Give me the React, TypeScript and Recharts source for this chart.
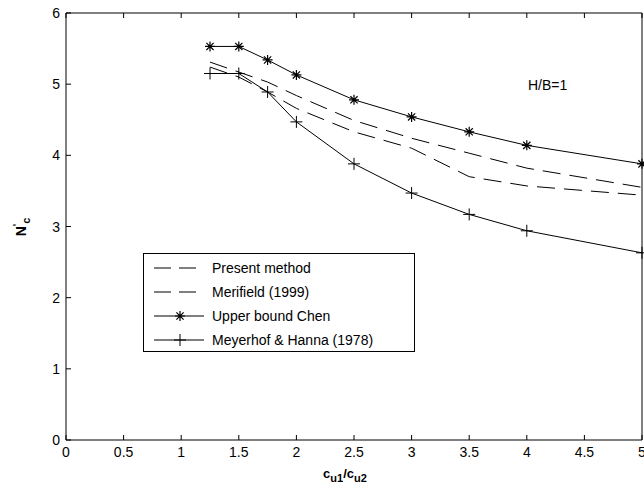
import { LineChart, Line, XAxis, YAxis, Legend, ReferenceDot } from 'recharts';

const xValues = [1.25, 1.5, 1.75, 2, 2.5, 3, 3.5, 4, 5];
const presentMethod = [5.31, 5.17, 5.03, 4.84, 4.49, 4.24, 4.03, 3.82, 3.55];
const merifield = [5.24, 5.1, 4.89, 4.66, 4.33, 4.1, 3.7, 3.57, 3.44];
const upperBoundChen = [5.53, 5.53, 5.34, 5.13, 4.78, 4.54, 4.33, 4.14, 3.88];
const meyerhofHanna = [5.15, 5.15, 4.89, 4.47, 3.88, 3.47, 3.17, 2.94, 2.63];

const xTicks = [0, 0.5, 1, 1.5, 2, 2.5, 3, 3.5, 4, 4.5, 5];
const yTicks = [0, 1, 2, 3, 4, 5, 6];

const seriesNames = ['Present method', 'Merifield (1999)', 'Upper bound Chen', 'Meyerhof & Hanna (1978)'];

const data = xValues.map((x, i) => ({
    x,
    present: presentMethod[i],
    merifield: merifield[i],
    chen: upperBoundChen[i],
    meyerhof: meyerhofHanna[i],
}));

const font = '"Liberation Sans", Arial, sans-serif';
const dash = '18 9';
const TICK = 5;
const GAP = 6;

// ticks point inward, matlab style; labels sit outside the box
function BottomTick(props: any) {
    const { x, y, payload } = props;
    return (
        <g>
            <line x1={x} x2={x} y1={y - GAP} y2={y - GAP - TICK} stroke="#000" />
            <text x={x} y={y} dy="0.75em" textAnchor="middle" fontFamily={font} fontSize={14} fill="#000">
                {payload.value}
            </text>
        </g>
    );
}

function LeftTick(props: any) {
    const { x, y, payload } = props;
    return (
        <g>
            <line x1={x + GAP} x2={x + GAP + TICK} y1={y} y2={y} stroke="#000" />
            <text x={x} y={y} dy="0.36em" textAnchor="end" fontFamily={font} fontSize={14} fill="#000">
                {payload.value}
            </text>
        </g>
    );
}

function TopTick(props: any) {
    const { x, y } = props;
    return <line x1={x} x2={x} y1={y} y2={y + TICK} stroke="#000" />;
}

function RightTick(props: any) {
    const { x, y } = props;
    return <line x1={x} x2={x - TICK} y1={y} y2={y} stroke="#000" />;
}

function Asterisk({ cx, cy }: { cx?: number; cy?: number }) {
    if (cx == null || cy == null) return null;
    const r = 5;
    const d = r * 0.72;
    return (
        <path
            d={`M${cx - r},${cy}H${cx + r}M${cx},${cy - r}V${cy + r}M${cx - d},${cy - d}L${cx + d},${cy + d}M${cx - d},${cy + d}L${cx + d},${cy - d}`}
            stroke="#000"
            strokeWidth={1.2}
            fill="none"
        />
    );
}

function Plus({ cx, cy }: { cx?: number; cy?: number }) {
    if (cx == null || cy == null) return null;
    const r = 6;
    return (
        <path
            d={`M${cx - r},${cy}H${cx + r}M${cx},${cy - r}V${cy + r}`}
            stroke="#000"
            strokeWidth={1}
            fill="none"
        />
    );
}

function LegendBox() {
    const rows = [
        { name: seriesNames[0], dashed: true, marker: null },
        { name: seriesNames[1], dashed: true, marker: null },
        { name: seriesNames[2], dashed: false, marker: 'star' },
        { name: seriesNames[3], dashed: false, marker: 'plus' },
    ];
    return (
        <div
            style={{
                width: 270,
                height: 95,
                border: '1px solid #000',
                background: '#fff',
                boxSizing: 'content-box',
                fontFamily: font,
                fontSize: 14,
                color: '#000',
                paddingTop: 2,
                textAlign: 'left',
            }}
        >
            {rows.map((r) => (
                <div key={r.name} style={{ display: 'flex', alignItems: 'center', height: 24 }}>
                    <svg width={68} height={24} style={{ flex: 'none' }}>
                        <line
                            x1={10}
                            x2={60}
                            y1={12}
                            y2={12}
                            stroke="#000"
                            strokeWidth={1}
                            strokeDasharray={r.dashed ? '17 8' : undefined}
                        />
                        {r.marker === 'star' && <Asterisk cx={36} cy={12} />}
                        {r.marker === 'plus' && <Plus cx={36} cy={12} />}
                    </svg>
                    <span>{r.name}</span>
                </div>
            ))}
        </div>
    );
}

function YLabel() {
    return (
        <text
            transform="translate(26,227) rotate(-90)"
            textAnchor="middle"
            fontFamily={font}
            fontWeight="bold"
            fontSize={14}
            fill="#000"
        >
            N
            <tspan dy={-5} fontSize={10}>'</tspan>
            <tspan dy={9} fontSize={11}>c</tspan>
        </text>
    );
}

function XLabel() {
    return (
        <text x={345} y={478} textAnchor="middle" fontFamily={font} fontWeight="bold" fontSize={13} fill="#000">
            c<tspan dy={4} fontSize={11}>u1</tspan>
            <tspan dy={-4}>/c</tspan>
            <tspan dy={4} fontSize={11}>u2</tspan>
        </text>
    );
}

export default function App() {
    return (
        <div style={{ position: 'absolute', left: 0, top: 0, background: '#fff' }}>
            <LineChart width={644} height={496} data={data} margin={{ top: 12, right: 1, bottom: 26, left: 26 }}>
                <XAxis
                    xAxisId="bottom"
                    dataKey="x"
                    type="number"
                    domain={[0, 5]}
                    ticks={xTicks}
                    interval={0}
                    height={30}
                    tickLine={false}
                    tickSize={0}
                    tickMargin={GAP}
                    stroke="#000"
                    tick={<BottomTick />}
                    label={<XLabel />}
                />
                <XAxis
                    xAxisId="top"
                    orientation="top"
                    dataKey="x"
                    type="number"
                    domain={[0, 5]}
                    ticks={xTicks}
                    interval={0}
                    height={1}
                    tickLine={false}
                    tickSize={0}
                    tickMargin={0}
                    stroke="#000"
                    tick={<TopTick />}
                />
                <YAxis
                    yAxisId="left"
                    type="number"
                    domain={[0, 6]}
                    ticks={yTicks}
                    interval={0}
                    width={40}
                    tickLine={false}
                    tickSize={0}
                    tickMargin={GAP}
                    stroke="#000"
                    tick={<LeftTick />}
                    label={<YLabel />}
                />
                <YAxis
                    yAxisId="right"
                    orientation="right"
                    type="number"
                    domain={[0, 6]}
                    ticks={yTicks}
                    interval={0}
                    width={1}
                    tickLine={false}
                    tickSize={0}
                    tickMargin={0}
                    stroke="#000"
                    tick={<RightTick />}
                />
                <Legend
                    layout="horizontal"
                    verticalAlign="middle"
                    align="center"
                    content={() => <LegendBox />}
                    wrapperStyle={{ left: 143, top: 253, width: 272, bottom: 'auto' }}
                />
                <ReferenceDot
                    xAxisId="bottom"
                    yAxisId="left"
                    x={4.18}
                    y={4.99}
                    r={0}
                    stroke="none"
                    label={{ value: 'H/B=1', fill: '#000', fontFamily: font, fontSize: 14, position: 'center' }}
                />
                <Line
                    xAxisId="bottom"
                    yAxisId="left"
                    dataKey="present"
                    name={seriesNames[0]}
                    stroke="#000"
                    strokeWidth={1}
                    strokeDasharray={dash}
                    dot={false}
                    isAnimationActive={false}
                />
                <Line
                    xAxisId="bottom"
                    yAxisId="left"
                    dataKey="merifield"
                    name={seriesNames[1]}
                    stroke="#000"
                    strokeWidth={1}
                    strokeDasharray={dash}
                    dot={false}
                    isAnimationActive={false}
                />
                <Line
                    xAxisId="bottom"
                    yAxisId="left"
                    dataKey="chen"
                    name={seriesNames[2]}
                    stroke="#000"
                    strokeWidth={1}
                    dot={<Asterisk />}
                    isAnimationActive={false}
                />
                <Line
                    xAxisId="bottom"
                    yAxisId="left"
                    dataKey="meyerhof"
                    name={seriesNames[3]}
                    stroke="#000"
                    strokeWidth={1}
                    dot={<Plus />}
                    isAnimationActive={false}
                />
            </LineChart>
        </div>
    );
}
